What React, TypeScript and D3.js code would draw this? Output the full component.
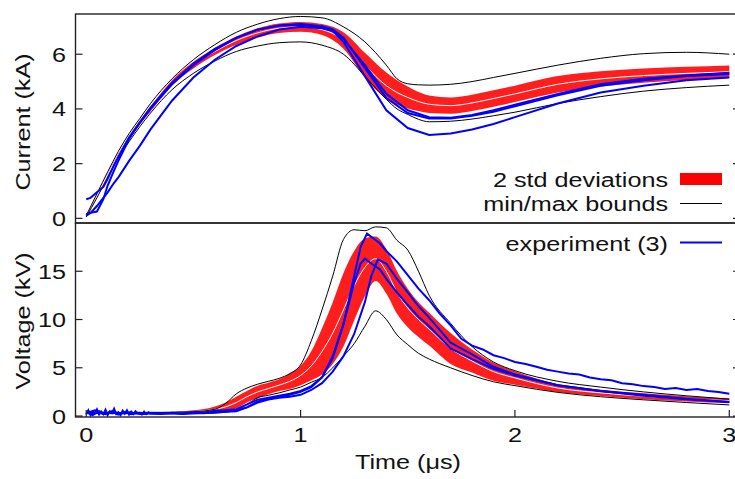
import * as d3 from 'd3';

// ---- current panel (kA) ----
const tGrid = [0, 0.05, 0.1, 0.15, 0.2, 0.25, 0.3, 0.4, 0.5, 0.6, 0.7, 0.8, 0.9, 1.0, 1.1, 1.2, 1.3, 1.4, 1.45, 1.5, 1.55, 1.6, 1.7, 1.8, 1.9, 2.0, 2.2, 2.4, 2.6, 2.8, 3.0];
const currentMean = [0.1, 0.85, 1.6, 2.3, 2.95, 3.5, 4.0, 4.95, 5.6, 6.1, 6.5, 6.78, 6.95, 7.0, 6.9, 6.5, 5.6, 4.85, 4.6, 4.42, 4.27, 4.17, 4.12, 4.22, 4.38, 4.55, 4.9, 5.1, 5.22, 5.3, 5.36];
const current2Std = [0.02, 0.03, 0.05, 0.06, 0.07, 0.08, 0.09, 0.1, 0.12, 0.13, 0.15, 0.17, 0.17, 0.18, 0.2, 0.3, 0.45, 0.48, 0.45, 0.4, 0.35, 0.32, 0.3, 0.3, 0.3, 0.3, 0.3, 0.28, 0.26, 0.24, 0.23];
const currentMax = [0.1, 0.9, 1.7, 2.45, 3.1, 3.65, 4.2, 5.1, 5.8, 6.35, 6.8, 7.1, 7.3, 7.38, 7.33, 7.0, 6.45, 5.6, 5.1, 4.92, 4.88, 4.87, 4.9, 5.0, 5.15, 5.3, 5.6, 5.85, 6.02, 6.07, 6.0];
const currentMin = [0.05, 0.75, 1.5, 2.2, 2.8, 3.35, 3.85, 4.7, 5.3, 5.75, 6.1, 6.3, 6.42, 6.45, 6.33, 6.0, 5.2, 4.35, 4.0, 3.8, 3.62, 3.53, 3.55, 3.63, 3.75, 3.88, 4.2, 4.45, 4.65, 4.78, 4.87];

const tExpI = [0, 0.02, 0.05, 0.08, 0.1, 0.13, 0.15, 0.2, 0.25, 0.3, 0.4, 0.5, 0.6, 0.7, 0.8, 0.9, 1.0, 1.1, 1.15, 1.2, 1.3, 1.4, 1.5, 1.6, 1.7, 1.8, 1.9, 2.0, 2.2, 2.4, 2.6, 2.8, 3.0];
const expI1 = [0.7, 0.75, 0.95, 1.15, 1.45, 1.95, 2.25, 2.95, 3.5, 4.05, 4.95, 5.65, 6.2, 6.6, 6.9, 7.05, 7.1, 7.02, 6.92, 6.6, 5.5, 4.4, 3.85, 3.65, 3.65, 3.75, 3.9, 4.1, 4.5, 4.85, 5.05, 5.2, 5.28];
const expI2 = [0.15, 0.2, 0.25, 0.7, 1.2, 1.75, 2.1, 2.9, 3.5, 4.0, 4.9, 5.6, 6.15, 6.6, 6.9, 7.05, 7.08, 6.98, 6.88, 6.55, 5.6, 4.55, 3.95, 3.7, 3.68, 3.78, 3.95, 4.15, 4.55, 4.9, 5.1, 5.22, 5.32];
const expI3 = [0.1, 0.2, 0.45, 0.75, 0.95, 1.3, 1.5, 2.1, 2.65, 3.25, 4.3, 5.15, 5.8, 6.3, 6.65, 6.9, 7.0, 6.95, 6.85, 6.45, 5.2, 3.95, 3.3, 3.05, 3.1, 3.25, 3.45, 3.7, 4.2, 4.6, 4.85, 5.05, 5.15];

// ---- voltage panel (kV) ----
const tGridV = [0, 0.2, 0.4, 0.5, 0.6, 0.65, 0.7, 0.75, 0.8, 0.85, 0.9, 0.95, 1.0, 1.05, 1.1, 1.15, 1.2, 1.25, 1.3, 1.35, 1.4, 1.45, 1.5, 1.55, 1.6, 1.7, 1.8, 1.9, 2.0, 2.2, 2.4, 2.6, 2.8, 3.0];
const voltageMean = [0.3, 0.3, 0.35, 0.45, 0.7, 0.95, 1.4, 2.0, 2.5, 2.85, 3.2, 3.6, 4.2, 5.2, 6.7, 8.6, 11.0, 13.5, 15.4, 16.3, 15.0, 12.8, 11.2, 10.0, 9.0, 7.0, 5.7, 4.6, 3.95, 2.9, 2.4, 2.05, 1.78, 1.58];
const voltage2Std = [0.05, 0.05, 0.08, 0.15, 0.3, 0.45, 0.6, 0.6, 0.65, 0.6, 0.6, 0.8, 1.0, 1.5, 2.4, 3.2, 3.8, 3.6, 3.0, 2.3, 2.3, 2.2, 2.0, 1.8, 1.7, 1.6, 1.2, 0.95, 0.7, 0.4, 0.33, 0.3, 0.27, 0.25];
const voltageMax = [0.35, 0.35, 0.4, 0.45, 0.7, 1.3, 2.3, 2.9, 3.3, 3.6, 3.9, 4.4, 5.3, 7.8, 11.0, 14.5, 18.3, 19.3, 19.2, 19.6, 19.5, 18.2, 17.2, 15.0, 12.5, 9.6, 7.2, 5.6, 4.7, 3.6, 3.0, 2.5, 2.1, 1.75];
const voltageMin = [0.25, 0.25, 0.25, 0.28, 0.3, 0.4, 0.6, 1.2, 1.9, 2.15, 2.4, 2.7, 3.0, 3.5, 4.0, 5.0, 6.2, 7.5, 9.3, 10.9, 10.0, 8.4, 7.4, 6.5, 5.9, 5.0, 4.2, 3.55, 3.15, 2.45, 2.0, 1.68, 1.4, 1.15];

const tExpV1 = [0, 0.01, 0.02, 0.03, 0.04, 0.05, 0.06, 0.07, 0.08, 0.09, 0.1, 0.11, 0.12, 0.13, 0.14, 0.15, 0.16, 0.17, 0.18, 0.19, 0.2, 0.21, 0.22, 0.23, 0.24, 0.25, 0.26, 0.27, 0.28, 0.29, 0.3, 0.35, 0.4, 0.45, 0.5, 0.55, 0.6, 0.65, 0.7, 0.75, 0.8, 0.85, 0.9, 0.95, 1.0, 1.05, 1.1, 1.15, 1.2, 1.25, 1.28, 1.31, 1.34, 1.37, 1.4, 1.45, 1.5, 1.55, 1.6, 1.65, 1.7, 1.75, 1.8, 1.85, 1.9, 1.95, 2.0, 2.05, 2.1, 2.15, 2.2, 2.25, 2.3, 2.35, 2.4, 2.45, 2.5, 2.55, 2.6, 2.65, 2.7, 2.75, 2.8, 2.85, 2.9, 2.95, 3.0];
const expV1 = [0.2, 0.6, 0.1, 0.5, 0.3, 0.7, 0.15, 0.45, 0.2, 0.65, 0.1, 0.5, 0.3, 0.75, 0.2, 0.4, 0.1, 0.55, 0.25, 0.6, 0.15, 0.45, 0.2, 0.5, 0.3, 0.35, 0.15, 0.45, 0.2, 0.4, 0.25, 0.2, 0.35, 0.25, 0.4, 0.35, 0.55, 0.6, 0.7, 1.2, 1.7, 1.9, 2.1, 2.3, 2.6, 3.1, 4.0, 6.0, 9.5, 14.5, 17.5, 18.9, 18.4, 17.9, 17.1, 16.0, 14.6, 13.2, 12.0, 10.6, 9.4, 8.0, 7.3, 6.9, 6.3, 6.0, 5.6, 5.4, 5.1, 4.8, 4.6, 4.4, 4.3, 4.0, 3.8, 3.7, 3.4, 3.3, 3.1, 3.0, 2.8, 2.9, 2.7, 2.8, 2.6, 2.5, 2.3];
const tExpV2 = [0, 0.03, 0.06, 0.09, 0.12, 0.15, 0.18, 0.21, 0.24, 0.27, 0.3, 0.35, 0.4, 0.45, 0.5, 0.55, 0.6, 0.65, 0.7, 0.75, 0.8, 0.85, 0.9, 0.95, 1.0, 1.05, 1.1, 1.15, 1.2, 1.25, 1.28, 1.3, 1.33, 1.37, 1.4, 1.45, 1.5, 1.55, 1.6, 1.7, 1.8, 1.9, 2.0, 2.2, 2.4, 2.6, 2.8, 3.0];
const expV2 = [0.4, 0.1, 0.5, 0.2, 0.45, 0.15, 0.4, 0.2, 0.35, 0.2, 0.3, 0.25, 0.3, 0.2, 0.3, 0.3, 0.4, 0.5, 0.6, 0.9, 1.5, 1.8, 2.0, 2.2, 2.5, 3.0, 4.0, 6.2, 9.5, 13.8, 15.8, 16.3, 15.8, 15.2, 14.2, 12.8, 11.5, 10.3, 9.3, 7.0, 5.9, 4.9, 4.2, 3.2, 2.6, 2.2, 1.8, 1.45];
const tExpV3 = [0, 0.04, 0.08, 0.12, 0.16, 0.2, 0.25, 0.3, 0.4, 0.5, 0.6, 0.65, 0.7, 0.75, 0.8, 0.85, 0.9, 0.95, 1.0, 1.05, 1.1, 1.15, 1.2, 1.25, 1.3, 1.33, 1.36, 1.4, 1.45, 1.5, 1.55, 1.6, 1.7, 1.8, 1.9, 2.0, 2.2, 2.4, 2.6, 2.8, 3.0];
const expV3 = [0.3, 0.6, 0.2, 0.5, 0.25, 0.4, 0.2, 0.35, 0.3, 0.3, 0.4, 0.45, 0.5, 0.9, 1.4, 1.7, 1.9, 2.0, 2.2, 2.7, 3.4, 4.6, 6.2, 8.5, 11.8, 14.5, 16.2, 15.8, 14.2, 12.8, 11.4, 10.2, 7.6, 6.4, 5.1, 4.3, 3.2, 2.6, 2.1, 1.75, 1.45];

const xTicks = [0, 1, 2, 3];
const currentTicks = [0, 2, 4, 6];
const voltageTicks = [0, 5, 10, 15];

const FONT = '"Liberation Sans", Arial, Helvetica, sans-serif';
const STRETCH = 1.2;

// text drawn with the wide, gnuplot-like letterforms of the reference
const Label = ({x, y, anchor = 'start', rotate = false, children}: any) => (
    <g transform={`translate(${x},${y})${rotate ? ' rotate(-90)' : ''} scale(${STRETCH},1)`}>
        <text textAnchor={anchor} fontSize={21} fill="#111">{children}</text>
    </g>
);

export default function App() {
    const width = 735;
    const height = 479;
    const left = 75.5;
    const right = 740;
    const topI = 14;
    const mid = 223;
    const bottom = 417;

    const x = d3.scaleLinear().domain([-0.05, 3.05]).range([left, right]);
    const yI = d3.scaleLinear().domain([-0.17, 7.47]).range([mid, topI]);
    const yV = d3.scaleLinear().domain([-0.1, 20]).range([bottom, mid]);

    const zip = (ts: number[], vs: number[]) => ts.map((t, i) => [t, vs[i]] as [number, number]);

    const smooth = (y: d3.ScaleLinear<number, number>) =>
        d3.line<[number, number]>().x((d) => x(d[0])).y((d) => y(d[1])).curve(d3.curveMonotoneX);
    const raw = (y: d3.ScaleLinear<number, number>) =>
        d3.line<[number, number]>().x((d) => x(d[0])).y((d) => y(d[1]));
    const band = (y: d3.ScaleLinear<number, number>) =>
        d3.area<[number, number, number]>()
            .x((d) => x(d[0]))
            .y0((d) => y(d[1] - d[2]))
            .y1((d) => y(d[1] + d[2]))
            .curve(d3.curveMonotoneX);

    const bandI = tGrid.map((t, i) => [t, currentMean[i], current2Std[i]] as [number, number, number]);
    const bandV = tGridV.map((t, i) => [t, voltageMean[i], voltage2Std[i]] as [number, number, number]);

    const red = '#ff1e1e';
    const blue = '#0000ff';

    return (
        <svg width={width} height={height} style={{position: 'fixed', left: 0, top: 0, background: '#fff'}} fontFamily={FONT}>
            <defs>
                <clipPath id="clipI"><rect x={left} y={topI} width={right - left} height={mid - topI} /></clipPath>
                <clipPath id="clipV"><rect x={left} y={mid} width={right - left} height={bottom - mid} /></clipPath>
            </defs>

            <g clipPath="url(#clipI)">
                <path d={band(yI)(bandI) ?? ''} fill={red} />
                <path d={smooth(yI)(zip(tGrid, currentMean)) ?? ''} fill="none" stroke="#fff" strokeWidth={1} />
                <path d={smooth(yI)(zip(tGrid, currentMax)) ?? ''} fill="none" stroke="#000" strokeWidth={1} />
                <path d={smooth(yI)(zip(tGrid, currentMin)) ?? ''} fill="none" stroke="#000" strokeWidth={1} />
                {[expI1, expI2, expI3].map((s, i) => (
                    <path key={i} d={raw(yI)(zip(tExpI, s)) ?? ''} fill="none" stroke={blue} strokeWidth={2} />
                ))}
            </g>

            <g clipPath="url(#clipV)">
                <path d={band(yV)(bandV) ?? ''} fill={red} />
                <path d={smooth(yV)(zip(tGridV, voltageMean)) ?? ''} fill="none" stroke="#fff" strokeWidth={1} />
                <path d={smooth(yV)(zip(tGridV, voltageMax)) ?? ''} fill="none" stroke="#000" strokeWidth={1} />
                <path d={smooth(yV)(zip(tGridV, voltageMin)) ?? ''} fill="none" stroke="#000" strokeWidth={1} />
                <path d={raw(yV)(zip(tExpV1, expV1)) ?? ''} fill="none" stroke={blue} strokeWidth={2} />
                <path d={raw(yV)(zip(tExpV2, expV2)) ?? ''} fill="none" stroke={blue} strokeWidth={2} />
                <path d={raw(yV)(zip(tExpV3, expV3)) ?? ''} fill="none" stroke={blue} strokeWidth={2} />
            </g>

            {/* frames */}
            <rect x={left} y={topI} width={right - left} height={mid - topI} fill="none" stroke="#222" strokeWidth={1.4} />
            <rect x={left} y={mid} width={right - left} height={bottom - mid} fill="none" stroke="#222" strokeWidth={1.4} />

            {/* y ticks */}
            {currentTicks.map((v) => (
                <g key={'ci' + v}>
                    <line x1={left} x2={left + 7} y1={yI(v)} y2={yI(v)} stroke="#222" strokeWidth={1.2} />
                    <line x1={right - 7} x2={right} y1={yI(v)} y2={yI(v)} stroke="#222" strokeWidth={1.2} />
                    <Label x={66} y={yI(v) + 7.5} anchor="end">{v}</Label>
                </g>
            ))}
            {voltageTicks.map((v) => (
                <g key={'cv' + v}>
                    <line x1={left} x2={left + 7} y1={yV(v)} y2={yV(v)} stroke="#222" strokeWidth={1.2} />
                    <line x1={right - 7} x2={right} y1={yV(v)} y2={yV(v)} stroke="#222" strokeWidth={1.2} />
                    <Label x={66} y={yV(v) + 7.5} anchor="end">{v}</Label>
                </g>
            ))}
            {xTicks.map((t) => (
                <g key={'x' + t}>
                    <line x1={x(t)} x2={x(t)} y1={bottom} y2={bottom - 7} stroke="#222" strokeWidth={1.2} />
                    <Label x={x(t)} y={441.5} anchor="middle">{t}</Label>
                </g>
            ))}

            {/* axis titles */}
            <Label x={29.5} y={122} anchor="middle" rotate>Current (kA)</Label>
            <Label x={29.5} y={321} anchor="middle" rotate>Voltage (kV)</Label>
            <Label x={408} y={469} anchor="middle">Time (μs)</Label>

            {/* legend */}
            <Label x={668} y={187} anchor="end">2 std deviations</Label>
            <rect x={680} y={173} width={42} height={12} fill="#ff0000" />
            <Label x={668} y={211} anchor="end">min/max bounds</Label>
            <line x1={680} x2={722} y1={203.5} y2={203.5} stroke="#000" strokeWidth={1} />
            <Label x={668} y={251} anchor="end">experiment (3)</Label>
            <line x1={680} x2={722} y1={242.5} y2={242.5} stroke={blue} strokeWidth={2} />
        </svg>
    );
}
